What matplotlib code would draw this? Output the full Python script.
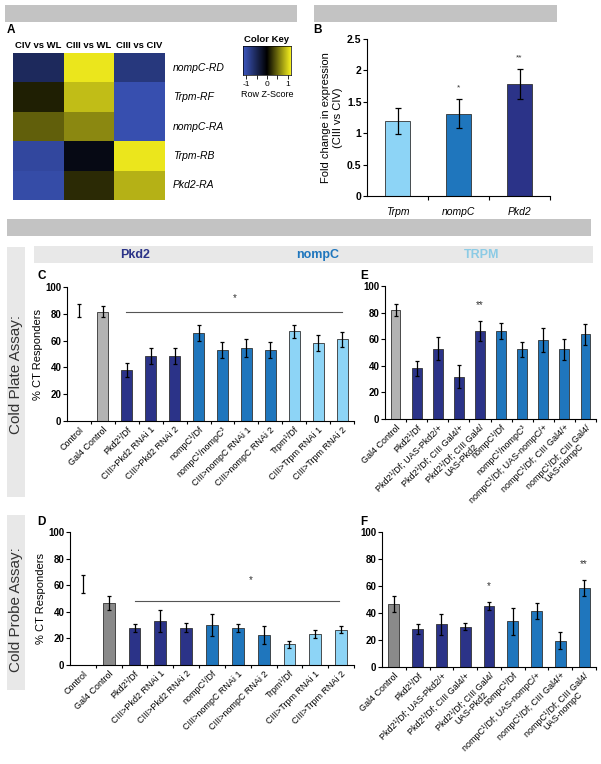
import numpy as np
import matplotlib
matplotlib.use('Agg')
import matplotlib.pyplot as plt
from matplotlib.patches import Rectangle
from matplotlib.colors import LinearSegmentedColormap

plt.rcParams['font.family'] = ['Liberation Sans', 'DejaVu Sans']

W, H = 601.0, 764.0

## Datos panel A (heatmap)
hm_cols = ['CIV vs WL', 'CIII vs WL', 'CIII vs CIV']
hm_rows = ['nompC-RD', 'Trpm-RF', 'nompC-RA', 'Trpm-RB', 'Pkd2-RA']
hm_z = [[-0.55, 1.10, -0.75],
        [0.15, 0.90, -1.05],
        [0.45, 0.65, -1.05],
        [-0.95, -0.12, 1.10],
        [-1.00, 0.20, 0.85]]

## Datos panel B
b_genes = ['Trpm', 'nompC', 'Pkd2']
b_vals = [1.19, 1.31, 1.78]
b_err = [0.21, 0.23, 0.24]
b_stars = ['', '*', '**']

## Datos panel C (cold plate)
c_labels = ['Control', 'Gal4 Control', 'Pkd2¹/Df', 'CIII>Pkd2 RNAi 1', 'CIII>Pkd2 RNAi 2',
            'nompC¹/Df', 'nompC¹/nompC³', 'CIII>nompC RNAi 1', 'CIII>nompC RNAi 2',
            'Trpm¹/Df', 'CIII>Trpm RNAi 1', 'CIII>Trpm RNAi 2']
c_group = ['none', 'gal4', 'pkd2', 'pkd2', 'pkd2', 'nompc', 'nompc', 'nompc', 'nompc',
           'trpm', 'trpm', 'trpm']
c_vals = [82.5, 81.5, 38, 48.5, 48.5, 66, 53, 54.5, 53, 67, 58.5, 61]
c_err = [5, 4, 5.5, 6, 6, 6, 6, 6.5, 6, 5, 6, 5.5]

## Datos panel D (cold probe)
d_labels = ['Control', 'Gal4 Control', 'Pkd2¹/Df', 'CIII>Pkd2 RNAi 1', 'CIII>Pkd2 RNAi 2',
            'nompC¹/Df', 'CIII>nompC RNAi 1', 'CIII>nompC RNAi 2',
            'Trpm¹/Df', 'CIII>Trpm RNAi 1', 'CIII>Trpm RNAi 2']
d_group = ['none', 'gal4', 'pkd2', 'pkd2', 'pkd2', 'nompc', 'nompc', 'nompc',
           'trpm', 'trpm', 'trpm']
d_vals = [61, 46.5, 28, 33, 28, 30, 28, 22.5, 15.5, 23.5, 26.5]
d_err = [7, 5.5, 3, 8.5, 3.5, 8.5, 3, 6.5, 2.5, 3, 2.5]

## Datos panel E (rescate, cold plate)
e_labels = ['Gal4 Control', 'Pkd2¹/Df', 'Pkd2¹/Df; UAS-Pkd2/+', 'Pkd2¹/Df; CIII Gal4/+',
            'Pkd2¹/Df; CIII Gal4/\nUAS-Pkd2', 'nompC¹/Df', 'nompC¹/nompC³',
            'nompC¹/Df; UAS-nompC/+', 'nompC¹/Df; CIII Gal4/+', 'nompC¹/Df; CIII Gal4/\nUAS-nompC']
e_group = ['gal4', 'pkd2', 'pkd2', 'pkd2', 'pkd2', 'nompc', 'nompc', 'nompc', 'nompc', 'nompc']
e_vals = [81.8, 38, 53, 31.8, 66.3, 66.3, 52.3, 59.3, 52.3, 63.8]
e_err = [4.3, 5.5, 8.7, 8.7, 7.5, 6, 5.5, 9.2, 8.2, 8]
e_stars = ['', '', '', '', '**', '', '', '', '', '']

## Datos panel F (rescate, cold probe)
f_labels = ['Gal4 Control', 'Pkd2¹/Df', 'Pkd2¹/Df; UAS-Pkd2/+', 'Pkd2¹/Df; CIII Gal4/+',
            'Pkd2¹/Df; CIII Gal4/\nUAS-Pkd2', 'nompC¹/Df',
            'nompC¹/Df; UAS-nompC/+', 'nompC¹/Df; CIII Gal4/+', 'nompC¹/Df; CIII Gal4/\nUAS-nompC']
f_group = ['gal4', 'pkd2', 'pkd2', 'pkd2', 'pkd2', 'nompc', 'nompc', 'nompc', 'nompc']
f_vals = [46.4, 28, 31.5, 30, 45, 34, 41.2, 19.6, 58.3]
f_err = [6, 3.5, 7.5, 2.7, 3, 10, 6, 6.2, 6]
f_stars = ['', '', '', '', '*', '', '', '', '**']

NAVY = '#2b3388'
MID = '#1f76bd'
LIGHT = '#8dd4f6'


def box(x0, y0, x1, y1):
    # pixeles -> coordenadas de figura
    return [x0 / W, 1 - y1 / H, (x1 - x0) / W, (y1 - y0) / H]


def ftext(x, y, s, **kw):
    fig.text(x / W, 1 - y / H, s, **kw)


def frect(x0, y0, x1, y1, color):
    fig.add_artist(Rectangle((x0 / W, 1 - y1 / H), (x1 - x0) / W, (y1 - y0) / H,
                             transform=fig.transFigure, facecolor=color, edgecolor='none', zorder=0))


fig = plt.figure(figsize=(W / 100, H / 100), dpi=100)

## fondos grises
frect(5, 5, 297, 22, '#c3c3c3')
frect(314, 5, 557, 22, '#c3c3c3')
frect(7, 219, 591, 236, '#c3c3c3')
frect(34, 246, 593, 263, '#e8e8e8')
frect(7, 247, 25, 497, '#e8e8e8')
frect(7, 515, 25, 690, '#e8e8e8')

ftext(135, 255, 'Pkd2', color=NAVY, fontsize=9, fontweight='bold', ha='center', va='center')
ftext(318, 255, 'nompC', color=MID, fontsize=9, fontweight='bold', ha='center', va='center')
ftext(482, 255, 'TRPM', color='#8ccbe5', fontsize=9, fontweight='bold', ha='center', va='center')
ftext(16, 374, 'Cold Plate Assay:', rotation=90, fontsize=11, color='#333333', ha='center', va='center')
ftext(16, 610, 'Cold Probe Assay:', rotation=90, fontsize=11, color='#333333', ha='center', va='center')

for lab, x, y in [('A', 7, 30), ('B', 313, 30), ('C', 37, 276), ('D', 37, 522),
                  ('E', 360, 276), ('F', 360, 522)]:
    ftext(x, y, lab, fontsize=8.5, fontweight='bold', ha='left', va='center')

## Panel A
cmap = LinearSegmentedColormap.from_list('byk', ['#3d57c0', '#000000', '#f5f01e'])
axA = fig.add_axes(box(13, 53, 165, 200))
axA.imshow(np.array(hm_z), cmap=cmap, vmin=-1.15, vmax=1.15, aspect='auto', interpolation='nearest')
axA.set_xticks([])
axA.set_yticks([])
for s in axA.spines.values():
    s.set_visible(False)
for i, c in enumerate(hm_cols):
    axA.text(i, -0.6, c, ha='center', va='bottom', fontsize=6.8, fontweight='bold')
for j, r in enumerate(hm_rows):
    axA.text(2.65, j, r, ha='left', va='center', fontsize=7.5, style='italic')

axK = fig.add_axes(box(243, 46, 291, 75))
axK.imshow(np.linspace(-1.15, 1.15, 200)[None, :], cmap=cmap, vmin=-1.15, vmax=1.15,
           aspect='auto', extent=[-1.15, 1.15, 0, 1])
axK.set_yticks([])
axK.set_xticks([-1, -0.5, 0, 0.5, 1])
axK.set_xticklabels(['-1', '', '0', '', '1'], fontsize=6)
axK.tick_params(axis='x', length=3, width=0.6, pad=1.5)
for s in axK.spines.values():
    s.set_linewidth(0.5)
axK.set_title('Color Key', fontsize=6.8, fontweight='bold', pad=3)
axK.set_xlabel('Row Z-Score', fontsize=6.5, labelpad=1)

## Panel B
axB = fig.add_axes(box(367, 39, 550, 196))
xb = np.arange(len(b_genes))
axB.bar(xb, b_vals, width=0.41, color=[LIGHT, MID, NAVY], edgecolor='#333333', linewidth=0.6)
axB.errorbar(xb, b_vals, yerr=b_err, fmt='none', ecolor='black', elinewidth=0.9, capsize=2, capthick=0.9)
for x, v, e, s in zip(xb, b_vals, b_err, b_stars):
    if s:
        axB.text(x, v + e + 0.12, s, ha='center', va='bottom', fontsize=6, color='#333333')
axB.set_xlim(-0.5, 2.5)
axB.set_ylim(0, 2.5)
axB.set_yticks([0, 0.5, 1, 1.5, 2, 2.5])
axB.set_yticklabels(['0', '0.5', '1', '1.5', '2', '2.5'], fontsize=7.5, fontweight='bold')
axB.set_xticks(xb)
axB.set_xticklabels(b_genes, fontsize=7.5, style='italic')
axB.set_xticks([0.5, 1.5, 2.5], minor=True)
axB.tick_params(axis='x', which='major', length=0, pad=8)
axB.tick_params(axis='x', which='minor', length=3, width=0.8)
axB.tick_params(axis='y', length=3, width=0.8, pad=1)
axB.spines['top'].set_visible(False)
axB.spines['right'].set_visible(False)
axB.set_ylabel('Fold change in expression\n(CIII vs CIV)', fontsize=8, labelpad=3)


def bar_panel(rect, labels, groups, vals, errs, gray, ylabel=False):
    ax = fig.add_axes(box(*rect))
    colors = {'gal4': gray, 'pkd2': NAVY, 'nompc': MID, 'trpm': LIGHT, 'none': 'none'}
    x = np.arange(len(labels))
    fc = [colors[g] for g in groups]
    ec = ['none' if g == 'none' else '#333333' for g in groups]
    ax.bar(x, vals, width=0.46, color=fc, edgecolor=ec, linewidth=0.6)
    ax.errorbar(x, vals, yerr=errs, fmt='none', ecolor='black', elinewidth=0.9, capsize=1.6, capthick=0.9)
    ax.set_xlim(-0.5, len(labels) - 0.5)
    ax.set_ylim(0, 100)
    ax.set_yticks([0, 20, 40, 60, 80, 100])
    ax.set_yticklabels(['0', '20', '40', '60', '80', '100'], fontsize=7, fontweight='bold')
    ax.set_xticks(x)
    ax.set_xticklabels(labels, rotation=45, ha='right', va='top', rotation_mode='anchor',
                       fontsize=6.5, multialignment='center', linespacing=1.0)
    ax.set_xticks(np.arange(len(labels)) + 0.5, minor=True)
    ax.tick_params(axis='x', which='major', length=0, pad=3)
    ax.tick_params(axis='x', which='minor', length=2.5, width=0.8)
    ax.tick_params(axis='y', length=3, width=0.8, pad=1)
    ax.spines['top'].set_visible(False)
    ax.spines['right'].set_visible(False)
    if ylabel:
        ax.set_ylabel('% CT Responders', fontsize=8, labelpad=2)
    return ax


def add_stars(ax, vals, errs, stars, off):
    for i, (v, e, s) in enumerate(zip(vals, errs, stars)):
        if s:
            ax.text(i, v + e + off, s, ha='center', va='bottom', fontsize=7, color='#333333')


## Panel C
axC = bar_panel((67, 287, 354, 421), c_labels, c_group, c_vals, c_err, '#b3b3b3', ylabel=True)
axC.plot([1.95, 11.0], [81.5, 81.5], color='#555555', lw=0.8)
axC.text(6.5, 88, '*', ha='center', va='bottom', fontsize=7, color='#333333')

## Panel D
axD = bar_panel((70, 532, 354, 665), d_labels, d_group, d_vals, d_err, '#8a8a8a', ylabel=True)
axD.plot([2.0, 9.9], [48, 48], color='#555555', lw=0.8)
axD.text(6.5, 60, '*', ha='center', va='bottom', fontsize=7, color='#333333')

## Panel E
axE = bar_panel((385, 286, 596, 419), e_labels, e_group, e_vals, e_err, '#b3b3b3')
add_stars(axE, e_vals, e_err, e_stars, 8)

## Panel F
axF = bar_panel((382, 532, 596, 667), f_labels, f_group, f_vals, f_err, '#8a8a8a')
add_stars(axF, f_vals, f_err, f_stars, 8)

fig.savefig('out.png', dpi=100)
